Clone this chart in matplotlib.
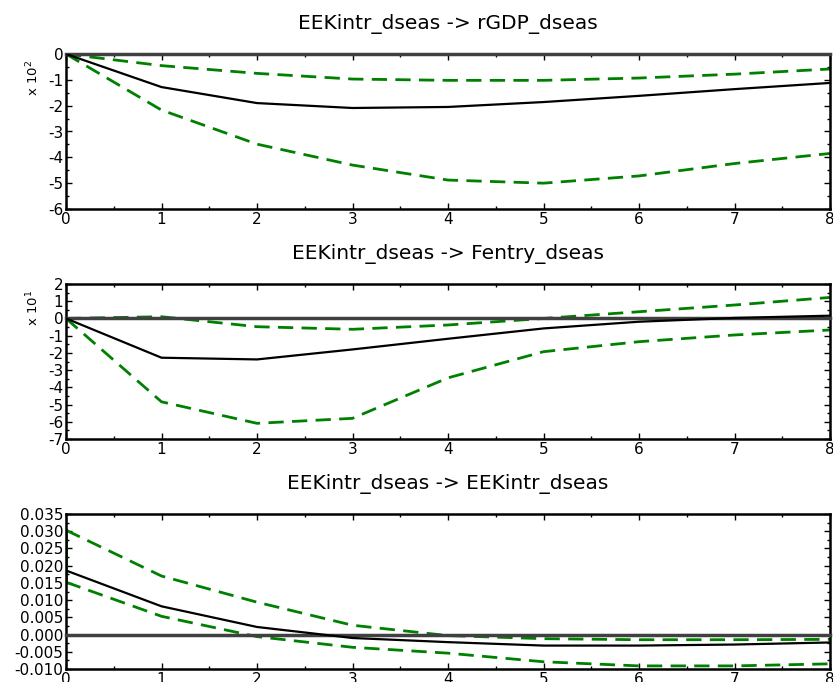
import matplotlib.pyplot as plt
from matplotlib.ticker import MultipleLocator, FormatStrFormatter

# horizon
steps = [0, 1, 2, 3, 4, 5, 6, 7, 8]

# EEKintr_dseas -> rGDP_dseas (x 10^2)
gdp_irf = [0, -1.28, -1.90, -2.09, -2.05, -1.86, -1.62, -1.36, -1.12]
gdp_hi = [0, -0.45, -0.75, -0.97, -1.02, -1.02, -0.93, -0.78, -0.58]
gdp_lo = [0, -2.17, -3.49, -4.30, -4.88, -5.00, -4.72, -4.24, -3.85]

# EEKintr_dseas -> Fentry_dseas (x 10^1)
fen_irf = [0, -2.28, -2.38, -1.80, -1.18, -0.58, -0.19, 0.03, 0.16]
fen_hi = [0, 0.10, -0.48, -0.63, -0.38, 0.0, 0.39, 0.78, 1.22]
fen_lo = [0, -4.84, -6.09, -5.80, -3.45, -1.93, -1.35, -0.96, -0.67]

# EEKintr_dseas -> EEKintr_dseas
eek_irf = [0.0186, 0.0082, 0.0022, -0.0010, -0.0022, -0.0032, -0.0032, -0.0029, -0.0023]
eek_hi = [0.0303, 0.0170, 0.0094, 0.0027, -0.0003, -0.0012, -0.0015, -0.0015, -0.0014]
eek_lo = [0.0152, 0.0053, -0.0006, -0.0037, -0.0054, -0.0079, -0.0091, -0.0091, -0.0085]

titles = ['EEKintr_dseas -> rGDP_dseas',
          'EEKintr_dseas -> Fentry_dseas',
          'EEKintr_dseas -> EEKintr_dseas']
scales = ['x 10$^2$', 'x 10$^1$', None]
ylims = [(-6, 0), (-7, 2), (-0.010, 0.035)]
ysteps = [1, 1, 0.005]

panels = [(gdp_irf, gdp_hi, gdp_lo),
          (fen_irf, fen_hi, fen_lo),
          (eek_irf, eek_hi, eek_lo)]

plt.rcParams['font.family'] = 'DejaVu Sans'

fig = plt.figure(figsize=(8.33, 6.82), dpi=100)
left, width, height = 66 / 833, 764 / 833, 155 / 682
bottoms = [1 - 209 / 682, 1 - 439 / 682, 1 - 669 / 682]

green = '#008000'
for i, (irf, hi, lo) in enumerate(panels):
    ax = fig.add_axes([left, bottoms[i], width, height])
    # zero line (drawn over the spine where they coincide)
    ax.axhline(0, color='#404040', linewidth=2.5, zorder=2.6, clip_on=False)
    ax.plot(steps, hi, color=green, linestyle=(0, (5.5, 3)), linewidth=2, zorder=2)
    ax.plot(steps, lo, color=green, linestyle=(0, (5.5, 3)), linewidth=2, zorder=2)
    ax.plot([steps[0], steps[0]], [lo[0], hi[0]], color=green, linewidth=2, zorder=2)
    ax.plot(steps, irf, color='black', linewidth=1.6, zorder=3)

    ax.set_xlim(0, 8)
    ax.set_ylim(*ylims[i])
    ax.xaxis.set_major_locator(MultipleLocator(1))
    ax.xaxis.set_minor_locator(MultipleLocator(0.5))
    ax.yaxis.set_major_locator(MultipleLocator(ysteps[i]))
    ax.yaxis.set_minor_locator(MultipleLocator(ysteps[i] / 2))
    if i == 2:
        ax.yaxis.set_major_formatter(FormatStrFormatter('%.3f'))
    else:
        ax.yaxis.set_major_formatter(FormatStrFormatter('%d'))
    ax.tick_params(which='both', direction='in', top=True, right=True,
                   labelsize=11, pad=2, width=1)
    ax.tick_params(which='major', length=4)
    ax.tick_params(which='minor', length=2)
    for s in ax.spines.values():
        s.set_linewidth(1.8)
    ax.set_title(titles[i], fontsize=14.5, pad=18)
    if scales[i]:
        fig.text(33 / 833, bottoms[i] + height - 24 / 682, scales[i],
                 rotation=90, ha='center', va='center', fontsize=9.5)

fig.savefig('out.png', dpi=100, facecolor='white')
